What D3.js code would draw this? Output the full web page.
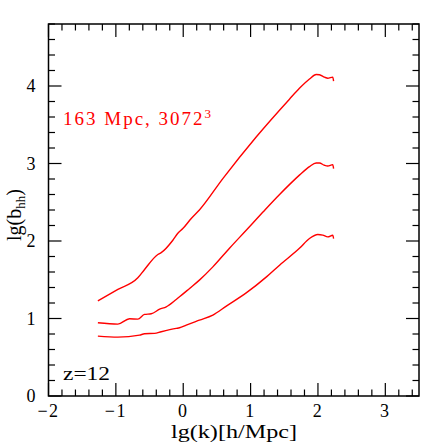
<!DOCTYPE html>
<head>
  <meta charset="utf-8">
  <title>lg(b_hh) vs lg(k)</title>
  <style>
    body { margin: 0; background: #fff; }
    text { font-family: "Liberation Serif", "DejaVu Serif", serif; }
  </style>
</head>
<body>
<script src="https://d3js.org/d3.v7.min.js"></script>
<script>
// three curves: lg(k) and lg(b_hh)
var kTop = [-1.267,-0.97,-0.674,-0.574,-0.377,-0.327,-0.154,-0.08,-0.006,0.119,0.24,0.588,1.083,1.577,1.725,1.874,1.973,2.022,2.097,2.146,2.22,2.232];
var bTop = [1.228,1.375,1.525,1.633,1.826,1.85,2.01,2.10,2.16,2.29,2.40,2.805,3.342,3.83,3.97,4.09,4.149,4.146,4.115,4.10,4.115,4.063];

var kMid = [-1.267,-0.97,-0.797,-0.674,-0.574,-0.475,-0.35,-0.252,-0.104,-0.055,0.094,0.24,0.44,0.69,0.935,1.18,1.43,1.725,1.874,1.973,2.022,2.097,2.146,2.22,2.232];
var bMid = [0.945,0.928,0.996,0.992,1.053,1.061,1.12,1.151,1.246,1.28,1.388,1.495,1.666,1.91,2.139,2.37,2.60,2.85,2.96,3.006,3.006,2.977,2.968,2.986,2.934];

var kLow = [-1.267,-0.97,-0.648,-0.574,-0.426,-0.327,-0.104,-0.055,0.045,0.24,0.44,0.64,0.935,1.24,1.43,1.725,1.874,1.998,2.072,2.146,2.22,2.232];
var bLow = [0.773,0.760,0.786,0.803,0.808,0.829,0.872,0.88,0.915,0.979,1.044,1.16,1.33,1.54,1.688,1.905,2.032,2.084,2.075,2.053,2.075,2.032];

var xTicks = [-2, -1, 0, 1, 2, 3];
var yTicks = [0, 1, 2, 3, 4];

var margin = {top: 24, right: 24, bottom: 47, left: 48.5},
    width = 443 - margin.left - margin.right,
    height = 443 - margin.top - margin.bottom;

var svg = d3.select("body").append("svg")
    .attr("width", 443)
    .attr("height", 443);

var g = svg.append("g")
    .attr("transform", "translate(" + margin.left + "," + margin.top + ")");

var x = d3.scaleLinear().domain([-2, 3.5]).range([0, width]);
var y = d3.scaleLinear().domain([0, 4.8]).range([height, 0]);

// minor ticks every 0.2, major on integers, drawn inside on all four sides
var xMinor = d3.range(-2, 3.5001, 0.2).map(function(v) { return +v.toFixed(1); });
var yMinor = d3.range(0, 4.8001, 0.2).map(function(v) { return +v.toFixed(1); });
function isMajor(v) { return Math.abs(v - Math.round(v)) < 1e-6; }
var big = 13, small = 6.5;

var ticks = g.append("g").attr("stroke", "#000").attr("stroke-width", 1.2);
xMinor.forEach(function(v) {
  var len = isMajor(v) ? big : small;
  ticks.append("line").attr("x1", x(v)).attr("x2", x(v)).attr("y1", height).attr("y2", height - len);
  ticks.append("line").attr("x1", x(v)).attr("x2", x(v)).attr("y1", 0).attr("y2", len);
});
yMinor.forEach(function(v) {
  var len = isMajor(v) ? big : small;
  ticks.append("line").attr("y1", y(v)).attr("y2", y(v)).attr("x1", 0).attr("x2", len);
  ticks.append("line").attr("y1", y(v)).attr("y2", y(v)).attr("x1", width).attr("x2", width - len);
});

g.append("rect")
    .attr("width", width)
    .attr("height", height)
    .attr("fill", "none")
    .attr("stroke", "#000")
    .attr("stroke-width", 1.5);

// tick labels
g.selectAll(".xl").data(xTicks).enter().append("text")
    .attr("x", function(d) { return x(d); })
    .attr("y", height + 21)
    .attr("text-anchor", "middle")
    .attr("font-size", 18)
    .attr("letter-spacing", 1.5)
    .text(function(d) { return d < 0 ? "\u2212" + (-d) : d; });

g.selectAll(".yl").data(yTicks).enter().append("text")
    .attr("x", -13)
    .attr("y", function(d) { return y(d); })
    .attr("dy", "0.34em")
    .attr("text-anchor", "end")
    .attr("font-size", 18)
    .text(function(d) { return d; });

// axis titles
svg.append("text")
    .attr("x", 234)
    .attr("y", 438)
    .attr("text-anchor", "middle")
    .attr("font-size", 18)
    .attr("textLength", 126)
    .attr("lengthAdjust", "spacingAndGlyphs")
    .text("lg(k)[h/Mpc]");

var yt = svg.append("text")
    .attr("transform", "translate(21,215) rotate(-90)")
    .attr("text-anchor", "middle")
    .attr("font-size", 20);
yt.append("tspan").text("lg(b");
yt.append("tspan").attr("font-size", 13).attr("dy", 4).text("hh");
yt.append("tspan").attr("dy", -4).text(")");

// annotations
var note = svg.append("text")
    .attr("x", 63)
    .attr("y", 125)
    .attr("fill", "#ff0000")
    .attr("font-size", 19)
    .attr("letter-spacing", 2);
note.append("tspan").text("163 Mpc, 3072");
note.append("tspan").attr("font-size", 13).attr("dy", -7).text("3");

svg.append("text")
    .attr("x", 63)
    .attr("y", 380)
    .attr("font-size", 19)
    .attr("textLength", 47)
    .attr("lengthAdjust", "spacingAndGlyphs")
    .text("z=12");

// curves
var line = d3.line()
    .curve(d3.curveMonotoneX)
    .x(function(d) { return x(d[0]); })
    .y(function(d) { return y(d[1]); });

[[kTop, bTop], [kMid, bMid], [kLow, bLow]].forEach(function(s) {
  g.append("path")
      .datum(d3.zip(s[0], s[1]))
      .attr("fill", "none")
      .attr("stroke", "#ff0000")
      .attr("stroke-width", 1.4)
      .attr("d", line);
});
</script>
</body>
